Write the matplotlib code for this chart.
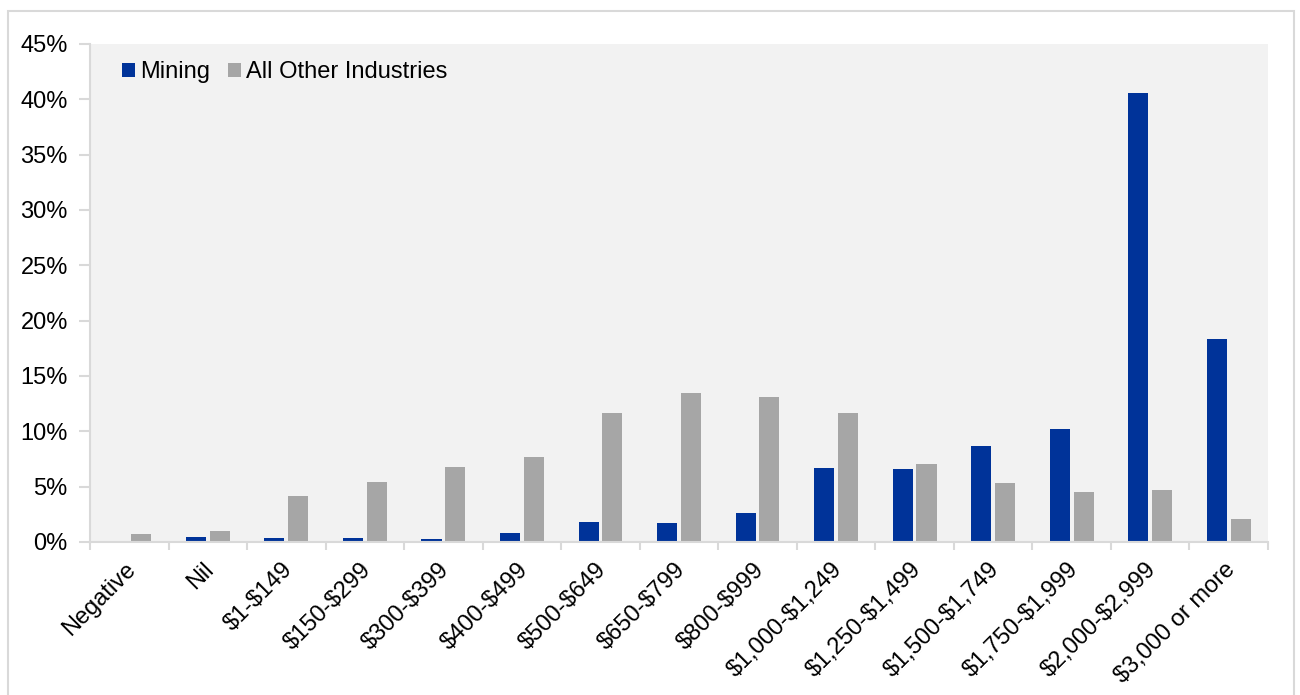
import numpy as np
import matplotlib.pyplot as plt
from matplotlib.patches import Rectangle
from matplotlib.transforms import ScaledTranslation

categories = ["Negative", "Nil", "$1-$149", "$150-$299", "$300-$399", "$400-$499",
              "$500-$649", "$650-$799", "$800-$999", "$1,000-$1,249", "$1,250-$1,499",
              "$1,500-$1,749", "$1,750-$1,999", "$2,000-$2,999", "$3,000 or more"]
mining = [0.0, 0.45, 0.33, 0.38, 0.27, 0.8, 1.78, 1.71, 2.59, 6.7, 6.62, 8.64, 10.2, 40.6, 18.35]
others = [0.68, 1.02, 4.15, 5.42, 6.75, 7.7, 11.65, 13.45, 13.07, 11.65, 7.05, 5.33, 4.49, 4.7, 2.05]

BLUE = "#003399"
GREY = "#a6a6a6"
AXIS = "#d9d9d9"
FS = 17

plt.rcParams["font.family"] = ["Liberation Sans", "DejaVu Sans"]
plt.rcParams["text.parse_math"] = False

fig = plt.figure(figsize=(13, 6.95), dpi=100)
ax = fig.add_axes([90 / 1300, 1 - 542 / 695, 1178 / 1300, 498 / 695])

# outer frame around the chart
fig.patches.append(Rectangle((8 / 1300, -0.01), 1286 / 1300, 1 - 11 / 695 + 0.01,
                             transform=fig.transFigure, fill=False,
                             edgecolor=AXIS, linewidth=1.5))

x = np.arange(len(categories))
w = 0.255
gap = 0.048
ax.bar(x - (w + gap) / 2, mining, width=w, color=BLUE, label="Mining", zorder=2)
ax.bar(x + (w + gap) / 2, others, width=w, color=GREY, label="All Other Industries", zorder=2)

ax.set_facecolor("#f2f2f2")
ax.set_xlim(-0.5, len(categories) - 0.5)
ax.set_ylim(0, 45)
ax.set_yticks(np.arange(0, 46, 5))
ax.set_yticklabels([f"{v}%" for v in range(0, 46, 5)], fontsize=FS)

ax.set_xticks(x)
ax.set_xticklabels(categories, rotation=45, ha="right", rotation_mode="anchor", fontsize=FS)
ax.tick_params(axis="x", length=0, pad=12)
shift = ScaledTranslation(-5 / 100, 0, fig.dpi_scale_trans)
for lab in ax.get_xticklabels():
    lab.set_transform(lab.get_transform() + shift)
ax.set_xticks(np.arange(-0.5, len(categories)), minor=True)
ax.tick_params(axis="x", which="minor", length=6, color=AXIS, width=1.5)
ax.tick_params(axis="y", length=8, color=AXIS, width=1.5, pad=8)

for s in ["top", "right"]:
    ax.spines[s].set_visible(False)
for s in ["left", "bottom"]:
    ax.spines[s].set_color(AXIS)
    ax.spines[s].set_linewidth(1.5)

ax.legend(loc="upper left", bbox_to_anchor=(32 / 1178, (542 - 61) / 498), ncol=2,
          frameon=False, fontsize=FS, borderpad=0, borderaxespad=0,
          handlelength=0.55, handleheight=0.55, handletextpad=0.21,
          columnspacing=0.76)

fig.savefig("out.png", dpi=100)
